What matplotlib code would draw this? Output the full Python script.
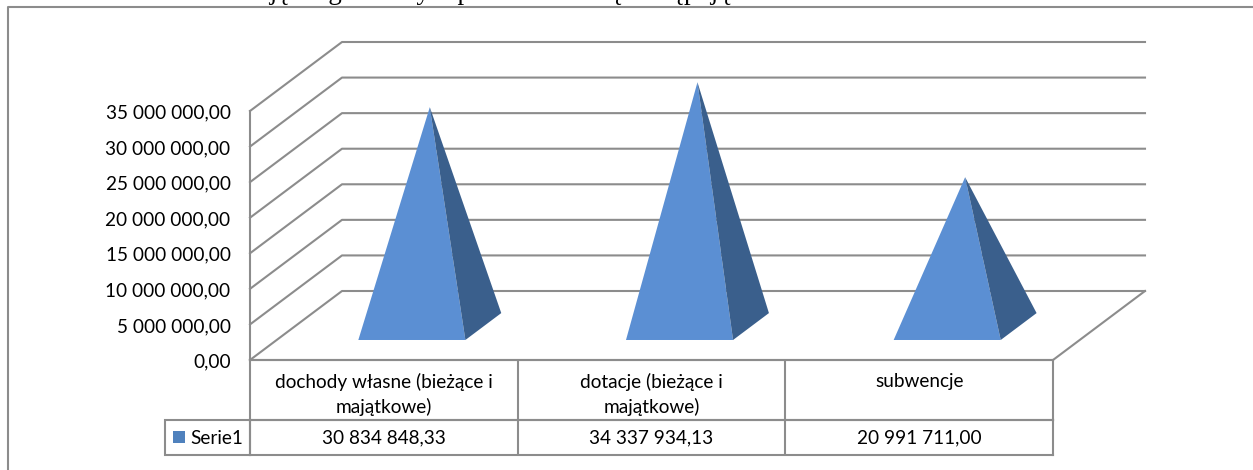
import matplotlib
matplotlib.use('Agg')
import matplotlib.pyplot as plt
from matplotlib.patches import Polygon, Rectangle

plt.rcParams['font.family'] = ['Lato', 'DejaVu Sans']

# dane
categories = ['dochody własne (bieżące i\nmajątkowe)', 'dotacje (bieżące i\nmajątkowe)', 'subwencje']
values = [30834848.33, 34337934.13, 20991711.00]
value_labels = ['30 834 848,33', '34 337 934,13', '20 991 711,00']
series_name = 'Serie1'
y_ticks = [0, 5000000, 10000000, 15000000, 20000000, 25000000, 30000000, 35000000]
y_labels = ['0,00', '5 000 000,00', '10 000 000,00', '15 000 000,00', '20 000 000,00',
            '25 000 000,00', '30 000 000,00', '35 000 000,00']

W, H = 1253, 470
GRID = '#8c8c8c'
FRONT = '#5b8fd3'
SIDE = '#3a5f8c'
FS = 13.7

fig = plt.figure(figsize=(W / 100, H / 100), dpi=100)
# os przednia: x 250-1053, y 360-111 w pikselach
ax = fig.add_axes([250 / W, 1 - 360 / H, 803 / W, 249 / H])
ax.set_xlim(0, 3)
ax.set_ylim(0, 35000000)
ax.axis('off')

dx = 3 * 92 / 803
dy = 35000000 * 69 / 249


def proj(x, y, d):
    # rzut ukosny: d = 0 przod, d = 1 tyl
    return x + d * dx, y + d * dy


def line(pts, lw=1.5):
    ax.plot([p[0] for p in pts], [p[1] for p in pts], color=GRID, lw=lw, clip_on=False,
            solid_capstyle='projecting', zorder=1)


# siatka
for t in y_ticks:
    line([proj(0, t, 0), proj(0, t, 1), proj(3, t, 1)])
line([proj(0, 0, 0), proj(3, 0, 0), proj(3, 0, 1)])
line([proj(0, 0, 0), proj(0, y_ticks[-1], 0)])

# ostroslupy
for i, v in enumerate(values):
    l, r = i + 0.305, i + 0.705
    d0, d1 = 0.29, 0.68
    apex = proj(i + 0.505, v, (d0 + d1) / 2)
    fl = proj(l, 0, d0)
    fr = proj(r, 0, d0)
    br = proj(r, 0, d1)
    ax.add_patch(Polygon([fl, fr, apex], closed=True, fc=FRONT, ec='none', zorder=3, clip_on=False))
    ax.add_patch(Polygon([fr, br, apex], closed=True, fc=SIDE, ec='none', zorder=3, clip_on=False))

# etykiety osi y
for t, lab in zip(y_ticks, y_labels):
    ax.annotate(lab, (0, t), xytext=(-14, -1.5), textcoords='offset points', ha='right', va='center',
                fontsize=FS, color='black', annotation_clip=False)

# tabela danych
row1 = fig.add_axes([250 / W, 1 - 420 / H, 803 / W, 60 / H])
row2 = fig.add_axes([250 / W, 1 - 455 / H, 803 / W, 35 / H])
for a in (row1, row2):
    a.set_xlim(0, 3)
    a.set_ylim(0, 1)
    a.set_xticks([])
    a.set_yticks([])
    a.patch.set_alpha(0)
    for s in a.spines.values():
        s.set_color(GRID)
        s.set_linewidth(1.5)
    for i in (1, 2):
        a.axvline(i, color=GRID, lw=1.5)
for i, c in enumerate(categories):
    row1.text(i + 0.5, 0.78, c, ha='center', va='top', fontsize=FS, linespacing=1.42)
    row2.text(i + 0.5, 0.5, value_labels[i], ha='center', va='center', fontsize=FS)

# legenda przy tabeli
fig.add_artist(Rectangle((165 / W, 1 - 455 / H), 85 / W, 35 / H, transform=fig.transFigure,
                         fc='none', ec=GRID, lw=1.5))
fig.add_artist(Rectangle((173 / W, 1 - 443 / H), 12 / W, 12 / H, transform=fig.transFigure,
                         fc='#4f81bd', ec='none'))
fig.text(190 / W, 1 - 438 / H, series_name, ha='left', va='center', fontsize=FS)

# ramka wykresu: bez prawej krawedzi
fig.add_artist(plt.Line2D([7.5 / W, 7.5 / W, 1], [0, 1 - 7 / H, 1 - 7 / H], color=GRID, lw=1.5))

# urwany tekst nad wykresem
fig.text(5 / W, 1 + 1 / H, 'Struktura dochodów w ujęciu graficznym przedstawia się następująco:',
         family='Liberation Serif', fontsize=19.4, ha='left', va='baseline')

fig.savefig('out.png', dpi=100)
